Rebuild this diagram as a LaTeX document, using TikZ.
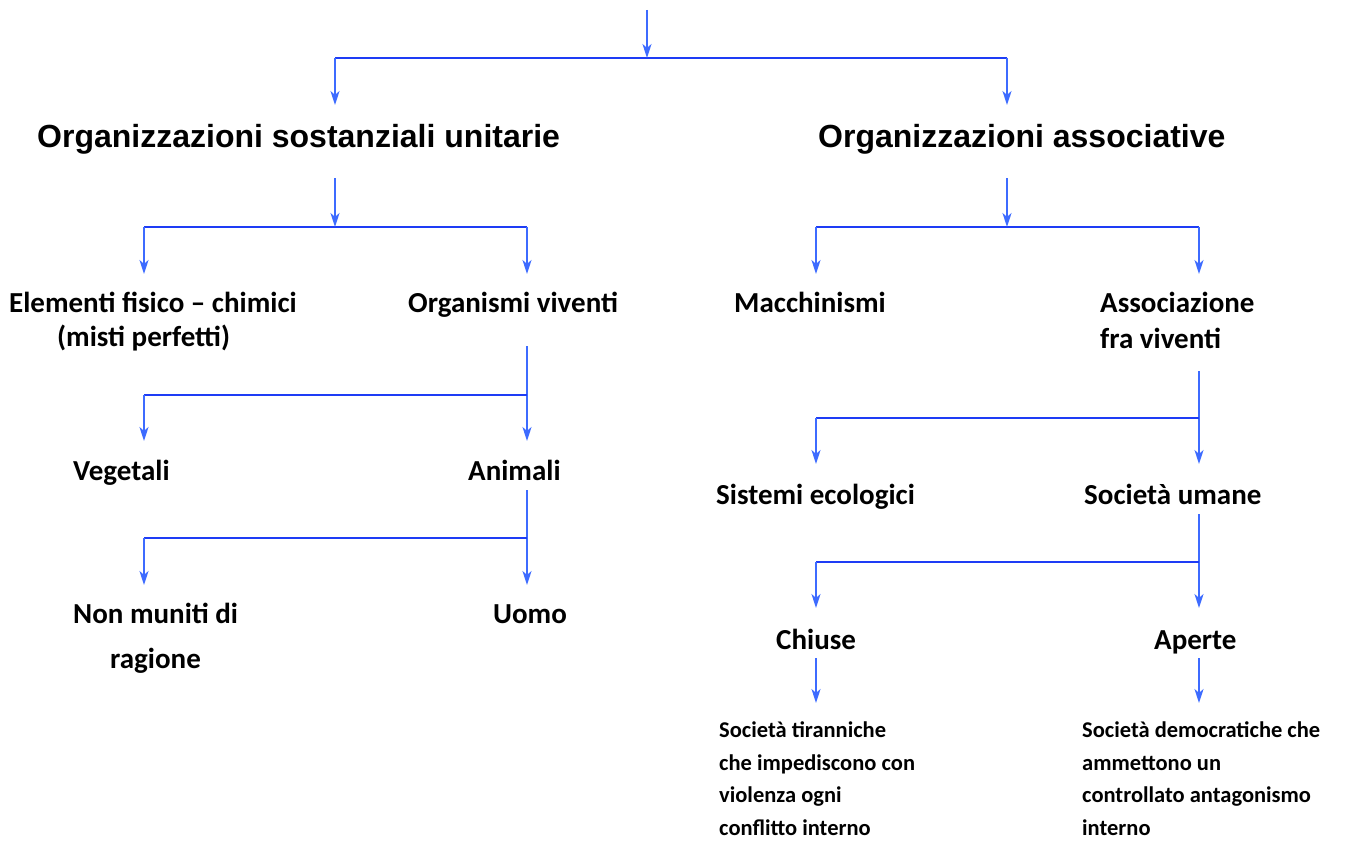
\documentclass[tikz,border=0pt]{standalone}
\usepackage{fontspec}
\setmainfont{Carlito}
\newfontfamily\arialfont{Liberation Sans}
\usetikzlibrary{arrows.meta}
\definecolor{arrowblue}{HTML}{3D6BFF}
\definecolor{barblue}{HTML}{1E3CF5}

\begin{document}
\begin{tikzpicture}[
  x=1pt,y=-1pt,
  title/.style={anchor=base west,inner sep=0pt,font=\arialfont\bfseries\fontsize{32}{36}\selectfont},
  lab/.style={anchor=base west,inner sep=0pt,align=left,font=\bfseries\fontsize{29}{34}\selectfont},
  small/.style={anchor=base west,inner sep=0pt,align=left,font=\bfseries\fontsize{22.5}{32.5}\selectfont},
  arr/.style={-{Stealth[length=14pt,width=9pt,inset=4pt]},line width=2pt,arrowblue},
  bar/.style={line width=2.6pt,barblue}
]
\useasboundingbox (0,0) rectangle (1353,843);

% first split
\coordinate (top) at (647,10);
\coordinate (j0) at (647,58);
\coordinate (j0l) at (335,58);
\coordinate (j0r) at (1007,58);
\coordinate (t1) at (335,105);
\coordinate (t2) at (1007,105);
\node[title] (su) at (37,147) {Organizzazioni sostanziali unitarie};
\node[title] (as) at (818,147) {Organizzazioni associative};
\draw[bar] (j0l) -- (j0r);
\draw[arr] (top) -- (j0);
\draw[arr] (j0l) -- (t1);
\draw[arr] (j0r) -- (t2);

% left branch
\coordinate (s0) at (335,178);
\coordinate (s1) at (335,227);
\coordinate (s1l) at (144,227);
\coordinate (s1r) at (527,227);
\node[lab] (el) at (9,346) {Elementi fisico -- chimici\\\hspace*{48pt}(misti perfetti)};
\node[lab] (ov) at (408,312) {Organismi viventi};
\draw[bar] (s1l) -- (s1r);
\draw[arr] (s0) -- (s1);
\draw[arr] (s1l) -- (144,274);
\draw[arr] (s1r) -- (527,274);

\coordinate (o0) at (527,346);
\node[lab] (ve) at (73,480) {Vegetali};
\node[lab] (an) at (468,480) {Animali};
\draw[arr] (o0) -- (527,441);
\draw[bar] (527,395) -- (144,395);
\draw[arr] (144,395) -- (144,441);

\coordinate (a0) at (527,490);
\node[lab] (nm) at (73,668) {Non muniti di\\[11pt]\hspace*{37pt}ragione};
\node[lab] (uo) at (493,623) {Uomo};
\draw[arr] (a0) -- (527,585);
\draw[bar] (527,538) -- (144,538);
\draw[arr] (144,538) -- (144,585);

% right branch
\coordinate (r0) at (1007,178);
\coordinate (r1) at (1007,227);
\coordinate (r1l) at (816,227);
\coordinate (r1r) at (1199,227);
\node[lab] (ma) at (734,312) {Macchinismi};
\node[lab] (fv) at (1100,348) {Associazione\\[2pt]fra viventi};
\draw[bar] (r1l) -- (r1r);
\draw[arr] (r0) -- (r1);
\draw[arr] (r1l) -- (816,274);
\draw[arr] (r1r) -- (1199,274);

\coordinate (f0) at (1199,371);
\node[lab] (se) at (716,504) {Sistemi ecologici};
\node[lab] (um) at (1084,504) {Società umane};
\draw[arr] (f0) -- (1199,464);
\draw[bar] (1199,418) -- (816,418);
\draw[arr] (816,418) -- (816,464);

\coordinate (u0) at (1199,514);
\node[lab] (ch) at (776,649) {Chiuse};
\node[lab] (ap) at (1154,649) {Aperte};
\draw[arr] (u0) -- (1199,608);
\draw[bar] (1199,562) -- (816,562);
\draw[arr] (816,562) -- (816,608);

\coordinate (c0) at (816,658);
\coordinate (p0) at (1199,658);
\node[small] (ti) at (719,835) {Società tiranniche\\che impediscono con\\violenza ogni\\conflitto interno};
\node[small] (de) at (1082,835) {Società democratiche che\\ammettono un\\controllato antagonismo\\interno};
\draw[arr] (c0) -- (816,703);
\draw[arr] (p0) -- (1199,703);
\end{tikzpicture}
\end{document}
